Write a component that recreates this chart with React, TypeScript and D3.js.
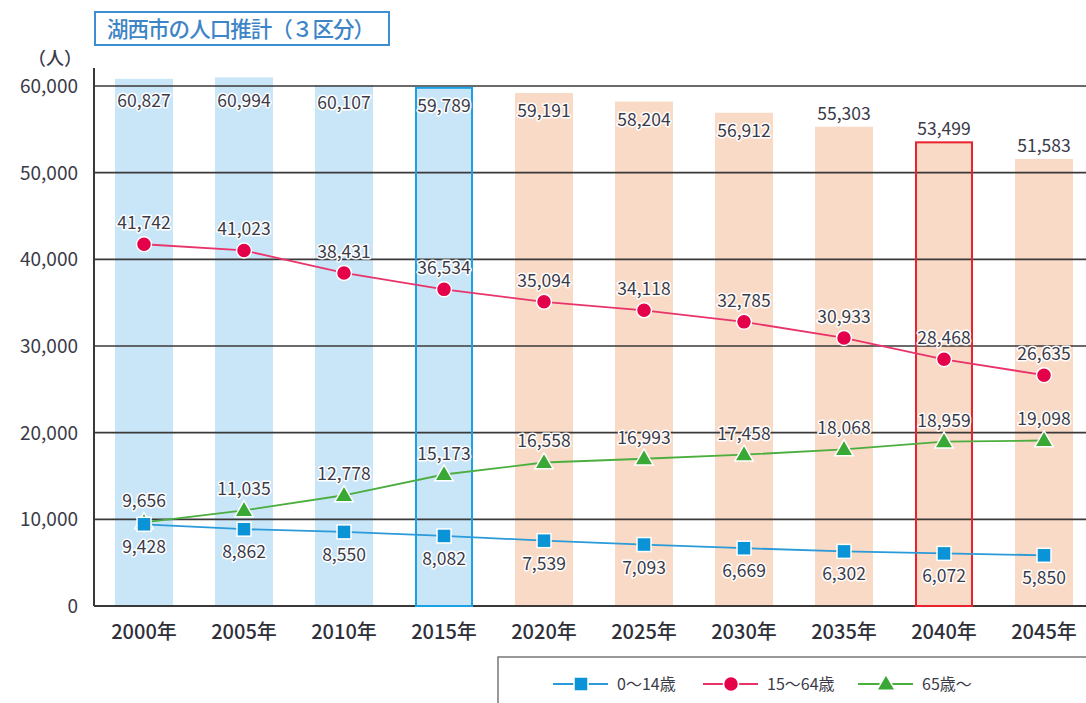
import { useEffect, useRef } from 'react';
import * as d3 from 'd3';

const years = ['2000年', '2005年', '2010年', '2015年', '2020年', '2025年', '2030年', '2035年', '2040年', '2045年'];
const totals = [60827, 60994, 60107, 59789, 59191, 58204, 56912, 55303, 53499, 51583];
const young = [9428, 8862, 8550, 8082, 7539, 7093, 6669, 6302, 6072, 5850];
const working = [41742, 41023, 38431, 36534, 35094, 34118, 32785, 30933, 28468, 26635];
const elderly = [9656, 11035, 12778, 15173, 16558, 16993, 17458, 18068, 18959, 19098];
const yTicks = [0, 10000, 20000, 30000, 40000, 50000, 60000];
const actualCount = 4; // 2000-2015 are census values, the rest projections
const outlined = { '2015年': '#1ba1e6', '2040年': '#e8232e' };

const FONT = '"Noto Sans CJK JP", "Noto Sans", sans-serif';
const TEXT = '#3b3a48';

export default function App() {
  const ref = useRef(null);

  useEffect(() => {
    document.body.style.margin = '0';
    const svg = d3.select(ref.current);
    svg.selectAll('*').remove();

    const width = 1086;
    const left = 94;
    const right = width;

    const x = d3.scaleBand().domain(years).range([left, left + 1000]).paddingInner(0.42).paddingOuter(0.21);
    const y = d3.scaleLinear().domain([0, 60000]).range([606, 86]);
    const cx = (i: number) => x(years[i])! + x.bandwidth() / 2;
    const fmt = d3.format(',');

    // title
    svg.append('rect').attr('x', 95).attr('y', 12).attr('width', 294).attr('height', 33)
      .attr('fill', '#fff').attr('stroke', '#3d8fd1').attr('stroke-width', 2);
    svg.append('text').attr('x', 107).attr('y', 37).attr('font-family', FONT).attr('font-size', 21.5)
      .attr('font-weight', 500).attr('fill', '#3d85c6').attr('textLength', 268).text('湖西市の人口推計（３区分）');

    // bars
    svg.append('g').selectAll('rect').data(totals).join('rect')
      .attr('x', (_, i) => x(years[i])!)
      .attr('y', d => y(d))
      .attr('width', x.bandwidth())
      .attr('height', d => y(0) - y(d))
      .attr('fill', (_, i) => (i < actualCount ? '#c9e6f8' : '#f9dac6'));

    // gridlines + axes
    const grid = svg.append('g');
    yTicks.forEach(t => {
      grid.append('line').attr('x1', left).attr('x2', right).attr('y1', y(t)).attr('y2', y(t))
        .attr('stroke', '#3a3838').attr('stroke-width', t === 0 ? 2 : 1.6);
    });
    grid.append('line').attr('x1', left).attr('x2', left).attr('y1', 68).attr('y2', y(0))
      .attr('stroke', '#3a3838').attr('stroke-width', 2);

    // highlighted bars
    Object.entries(outlined).forEach(([yr, col]) => {
      const i = years.indexOf(yr);
      svg.append('rect').attr('x', x(yr)! + 1).attr('y', y(totals[i]))
        .attr('width', x.bandwidth() - 2).attr('height', y(0) - y(totals[i]))
        .attr('fill', 'none').attr('stroke', col).attr('stroke-width', 2);
    });

    // y tick labels
    svg.append('g').selectAll('text').data(yTicks).join('text')
      .attr('x', 78).attr('y', d => y(d) + 7).attr('text-anchor', 'end')
      .attr('font-family', FONT).attr('font-size', 19).attr('fill', TEXT)
      .text(d => fmt(d));
    svg.append('text').attr('x', 82).attr('y', 65).attr('text-anchor', 'end')
      .attr('font-family', FONT).attr('font-size', 18).attr('font-weight', 500).attr('fill', TEXT).text('（人）');

    // x labels
    svg.append('g').selectAll('text').data(years).join('text')
      .attr('x', (_, i) => cx(i)).attr('y', 639).attr('text-anchor', 'middle')
      .attr('font-family', FONT).attr('font-size', 20).attr('font-weight', 500).attr('fill', '#2f2f3a')
      .text(d => d);

    const label = (g: any, tx: number, ty: number, s: string) => {
      g.append('text').attr('x', tx).attr('y', ty).attr('text-anchor', 'middle')
        .attr('font-family', FONT).attr('font-size', 17.5).attr('fill', TEXT)
        .attr('stroke', '#fff').attr('stroke-width', 3).attr('paint-order', 'stroke')
        .attr('stroke-linejoin', 'round').text(s);
    };

    // total labels
    const tl = svg.append('g');
    totals.forEach((v, i) => {
      const ty = i < 7 ? Math.max(y(v) + 24, 107) : y(v) - 7;
      label(tl, cx(i), ty, fmt(v));
    });

    // lines
    const series = [
      { data: young, line: '#2a9bd8', mark: '#0a93d6', shape: 'square', below: true },
      { data: working, line: '#e8346a', mark: '#e5004a', shape: 'circle', below: false },
      { data: elderly, line: '#4cae3f', mark: '#3aa835', shape: 'triangle', below: false },
    ];
    const line = d3.line<number>().x((_, i) => cx(i)).y(d => y(d));
    const drawMark = (g: any, shape: string, px: number, py: number, col: string) => {
      if (shape === 'square') {
        g.append('rect').attr('x', px - 7).attr('y', py - 7).attr('width', 14).attr('height', 14)
          .attr('fill', col).attr('stroke', '#fff').attr('stroke-width', 1.5);
      } else if (shape === 'circle') {
        g.append('circle').attr('cx', px).attr('cy', py).attr('r', 7.5)
          .attr('fill', col).attr('stroke', '#fff').attr('stroke-width', 1.5);
      } else {
        g.append('path').attr('d', d3.symbol(d3.symbolTriangle, 150)())
          .attr('transform', `translate(${px},${py + 1})`)
          .attr('fill', col).attr('stroke', '#fff').attr('stroke-width', 1.5);
      }
    };
    // square drawn last so it sits over the triangle at 2000
    const order = [2, 1, 0];
    order.forEach(k => {
      const s = series[k];
      svg.append('path').datum(s.data).attr('d', line).attr('fill', 'none')
        .attr('stroke', s.line).attr('stroke-width', 1.8);
    });
    order.forEach(k => {
      const s = series[k];
      const g = svg.append('g');
      s.data.forEach((v, i) => drawMark(g, s.shape, cx(i), y(v), s.mark));
    });
    const lg = svg.append('g');
    series.forEach(s => {
      s.data.forEach((v, i) => {
        const ty = s.below ? y(v) + 29 : y(v) - 15;
        label(lg, cx(i), ty, fmt(v));
      });
    });

    // legend
    const leg = svg.append('g');
    leg.append('rect').attr('x', 498).attr('y', 657).attr('width', 600).attr('height', 60)
      .attr('fill', '#fff').attr('stroke', '#777').attr('stroke-width', 1.5);
    const legItems = [
      { x: 553, label: '0～14歳', s: series[0] },
      { x: 703, label: '15～64歳', s: series[1] },
      { x: 858, label: '65歳～', s: series[2] },
    ];
    legItems.forEach(it => {
      leg.append('line').attr('x1', it.x).attr('x2', it.x + 55).attr('y1', 684).attr('y2', 684)
        .attr('stroke', it.s.line).attr('stroke-width', 1.8);
      drawMark(leg, it.s.shape, it.x + 28, 684, it.s.mark);
      leg.append('text').attr('x', it.x + 64).attr('y', 690).attr('font-family', FONT)
        .attr('font-size', 16).attr('fill', TEXT).text(it.label);
    });
  }, []);

  return <svg ref={ref} width={1086} height={703} style={{ display: 'block', background: '#fff' }} />;
}
